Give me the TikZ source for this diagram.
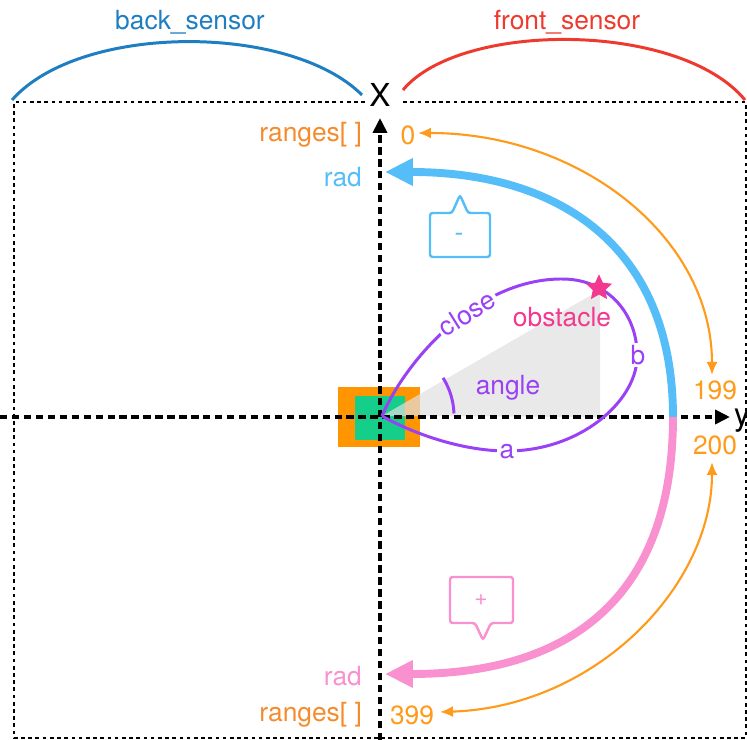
\documentclass[tikz,border=0pt]{standalone}
\usepackage{fontspec}
\setmainfont{TeX Gyre Heros}
\usetikzlibrary{arrows.meta,shapes.geometric}
\definecolor{backblue}{HTML}{1F7EC2}
\definecolor{frontred}{HTML}{EE3A2E}
\definecolor{rngorange}{HTML}{F58B2C}
\definecolor{idxorange}{HTML}{FF9A1A}
\definecolor{robotorange}{HTML}{FF9500}
\definecolor{robotgreen}{HTML}{14CE8A}
\definecolor{radblue}{HTML}{55BEF8}
\definecolor{radpink}{HTML}{F990CF}
\definecolor{geopurple}{HTML}{9A40F5}
\definecolor{obspink}{HTML}{F2388F}
\tikzset{
  lbl/.style={font=\fontsize{15}{18}\selectfont,inner sep=1pt},
  axis/.style={line width=2.2pt,dash pattern=on 4.2pt off 2.6pt,-{Triangle[length=3mm,width=2.8mm]}},
  frame/.style={line width=1.6pt,dash pattern=on 2.1pt off 2pt},
  sensor/.style={line width=1.7pt},
  sweep/.style={line width=4.5pt,-{Triangle[length=5.6mm,width=5.2mm]}},
  idx/.style={line width=1.2pt,idxorange,{Latex[length=2.6mm,width=2.2mm]}-{Latex[length=2.6mm,width=2.2mm]}},
  geo/.style={line width=1.7pt,geopurple},
  bubble/.style={line width=1.4pt,rounded corners=1.5pt},
  gap/.style={lbl,fill=white,text=geopurple,inner sep=1.5pt}
}

\begin{document}
\begin{tikzpicture}[x=0.02cm,y=0.02cm]
\useasboundingbox (-380,-323) rectangle (367,417);
\coordinate (o) at (2,1);
\coordinate (xbase) at (0,-323);
\coordinate (xtip) at (0,299);
\coordinate (yleft) at (-380,0);
\coordinate (ytip) at (350,0);
\coordinate (yend) at (293,0);
\coordinate (radtop) at (5,245);
\coordinate (radbot) at (5,-257);
\coordinate (i0) at (38,284);
\coordinate (i199) at (332,42);
\coordinate (i200) at (332,-45);
\coordinate (i399) at (60,-295);

% frame and sensors
\draw[frame] (-15,315) -- (-366,315) -- (-366,-321) -- (366,-321) -- (366,315) -- (20,315);
\draw[sensor,backblue] (-368,317) .. controls (-300,394) and (-90,394) .. (-18,322);
\draw[sensor,frontred] (23,327) .. controls (80,396) and (300,396) .. (365,317);
\node[lbl,backblue] (backlbl) at (-190,395) {back\_sensor};
\node[lbl,frontred] (frontlbl) at (187,395) {front\_sensor};

% robot
\node[fill=robotorange,minimum width=1.64cm,minimum height=1.22cm,inner sep=0] (robot) at (-1,0) {};
\node[fill=robotgreen,minimum width=1cm,minimum height=0.88cm,inner sep=0] (body) at (0,-1) {};
\fill[black!12,opacity=0.7] (o) -- (220,127) -- (220,0) -- cycle;

% axes
\draw[axis] (xbase) -- (xtip);
\draw[axis] (yleft) -- (ytip);
\node[font=\fontsize{18}{20}\selectfont] (xlbl) at (0,322) {X};
\node[font=\fontsize{18}{20}\selectfont,anchor=west,inner sep=1pt] (ylbl) at (352,-4) {y};

% scan direction
\draw[sweep,radblue] (yend) .. controls (293,170) and (180,245) .. (radtop);
\draw[sweep,radpink] (yend) .. controls (293,-185) and (185,-257) .. (radbot);
\draw[idx] (i0) .. controls (200,284) and (332,180) .. (i199);
\draw[idx] (i200) .. controls (332,-170) and (215,-290) .. (i399);

\node[lbl,rngorange,anchor=east] (rngtop) at (-16,282) {ranges[ ]};
\node[lbl,idxorange] (idx0) at (28,282) {0};
\node[lbl,radblue,anchor=east] (radtoplbl) at (-16,240) {rad};
\node[lbl,idxorange] (idx199) at (335,27) {199};
\node[lbl,idxorange] (idx200) at (335,-28) {200};
\node[lbl,radpink,anchor=east] (radbotlbl) at (-16,-259) {rad};
\node[lbl,rngorange,anchor=east] (rngbot) at (-16,-298) {ranges[ ]};
\node[lbl,idxorange] (idx399) at (32,-298) {399};

% bubbles
\draw[bubble,radblue] (72,204) -- (80,222) -- (88,204) -- (110,204) -- (110,160) -- (50,160) -- (50,204) -- cycle;
\node[lbl,radblue] (minuslbl) at (79,180) {-};
\draw[bubble,radpink] (95,-206) -- (103,-223) -- (111,-206) -- (133,-206) -- (133,-160) -- (70,-160) -- (70,-206) -- cycle;
\node[lbl,radpink,font=\fontsize{13}{15}\selectfont] (pluslbl) at (101,-183) {+};

% obstacle geometry
\draw[geo] (o) .. controls (25,55) and (95,137) .. (180,138)
  .. controls (230,139) and (259,100) .. (257,58)
  .. controls (255,15) and (200,-34) .. (127,-34)
  .. controls (80,-34) and (30,-15) .. (o);
\draw[geo] (o) ++(2:72) arc[start angle=2,end angle=32,radius=72];
\node[star,star points=5,star point ratio=2.1,fill=obspink,minimum size=0.55cm,inner sep=0] (obst) at (219,129) {};
\node[gap,rotate=32] (closelbl) at (87,104) {close};
\node[gap] (blbl) at (258,62) {b};
\node[gap] (albl) at (127,-35) {a};
\node[lbl,geopurple] (anglelbl) at (128,29) {angle};
\node[lbl,obspink] (obslbl) at (182,100) {obstacle};
\end{tikzpicture}
\end{document}
